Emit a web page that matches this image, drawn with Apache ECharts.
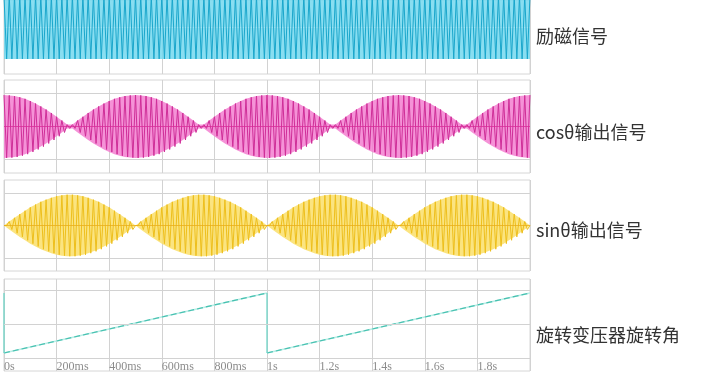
<!DOCTYPE html>
<html>
<head>
<meta charset="utf-8">
<script src="https://cdn.jsdelivr.net/npm/echarts@6/dist/echarts.min.js"></script>
<style>
html,body{margin:0;padding:0;background:#fff;}
#chart{width:713px;height:379px;}
</style>
</head>
<body>
<div id="chart"></div>
<script>
// ---- data ----
const panelLabels = ['励磁信号', 'cosθ输出信号', 'sinθ输出信号', '旋转变压器旋转角'];
const xTickLabels = ['0s', '200ms', '400ms', '600ms', '800ms', '1s', '1.2s', '1.4s', '1.6s', '1.8s', ''];
const sampleStepMs = 20; // envelope sampled every 20 ms, 0 .. 2000 ms

// excitation signal amplitude (constant carrier)
const excitationEnvelope = [
  1,
  1,1,1,1,1,1,1,1,1,1,1,1,1,1,1,1,1,1,1,1,1,1,1,1,1,
  1,1,1,1,1,1,1,1,1,1,1,1,1,1,1,1,1,1,1,1,1,1,1,1,1,
  1,1,1,1,1,1,1,1,1,1,1,1,1,1,1,1,1,1,1,1,1,1,1,1,1,
  1,1,1,1,1,1,1,1,1,1,1,1,1,1,1,1,1,1,1,1,1,1,1,1,1
];
// cos output envelope
const cosEnvelope = [
  1.00,
  0.99,0.97,0.93,0.88,0.81,0.73,0.64,0.54,0.43,0.31,0.19,0.06,0.06,0.19,0.31,0.43,0.54,0.64,0.73,0.81,0.88,0.93,0.97,0.99,1.00,
  0.99,0.97,0.93,0.88,0.81,0.73,0.64,0.54,0.43,0.31,0.19,0.06,0.06,0.19,0.31,0.43,0.54,0.64,0.73,0.81,0.88,0.93,0.97,0.99,1.00,
  0.99,0.97,0.93,0.88,0.81,0.73,0.64,0.54,0.43,0.31,0.19,0.06,0.06,0.19,0.31,0.43,0.54,0.64,0.73,0.81,0.88,0.93,0.97,0.99,1.00,
  0.99,0.97,0.93,0.88,0.81,0.73,0.64,0.54,0.43,0.31,0.19,0.06,0.06,0.19,0.31,0.43,0.54,0.64,0.73,0.81,0.88,0.93,0.97,0.99,1.00
];
// sin output envelope
const sinEnvelope = [
  0.00,
  0.13,0.25,0.37,0.48,0.59,0.68,0.77,0.84,0.90,0.95,0.98,1.00,1.00,0.98,0.95,0.90,0.84,0.77,0.68,0.59,0.48,0.37,0.25,0.13,0.00,
  0.13,0.25,0.37,0.48,0.59,0.68,0.77,0.84,0.90,0.95,0.98,1.00,1.00,0.98,0.95,0.90,0.84,0.77,0.68,0.59,0.48,0.37,0.25,0.13,0.00,
  0.13,0.25,0.37,0.48,0.59,0.68,0.77,0.84,0.90,0.95,0.98,1.00,1.00,0.98,0.95,0.90,0.84,0.77,0.68,0.59,0.48,0.37,0.25,0.13,0.00,
  0.13,0.25,0.37,0.48,0.59,0.68,0.77,0.84,0.90,0.95,0.98,1.00,1.00,0.98,0.95,0.90,0.84,0.77,0.68,0.59,0.48,0.37,0.25,0.13,0.00
];
// rotation angle: sawtooth, resets at these instants (ms)
const angleResetMs = [0, 1000, 2000];
const angleMinDeg = 0;
const angleMaxDeg = 360;

// ---- build series data ----
function carrier(env) {
  const out = [];
  env.forEach((a, i) => {
    const t = i * sampleStepMs;
    out.push([t, a]);
    if (i < env.length - 1) out.push([t + sampleStepMs / 2, -a]);
  });
  return out;
}
const upper = (env) => env.map((a, i) => [i * sampleStepMs, a]);
const lower = (env) => env.map((a, i) => [i * sampleStepMs, -a]);
const rampData = [];
const dropData = [];
for (let k = 0; k < angleResetMs.length - 1; k++) {
  rampData.push([angleResetMs[k], angleMinDeg], [angleResetMs[k + 1], angleMaxDeg], [angleResetMs[k + 1], '-']);
  dropData.push([angleResetMs[k], angleMaxDeg], [angleResetMs[k], angleMinDeg], [angleResetMs[k], '-']);
}

// ---- layout ----
const gridLeft = 4, gridRight = 183;
const grids = [
  {top: 0, height: 74, min: -1.48, max: 0.876},
  {top: 80, height: 93, min: -1.48, max: 1.48},
  {top: 180, height: 91, min: -1.48, max: 1.48},
  {top: 279, height: 92, min: -108, max: 444}
];
const gridLineColor = '#d2d2d2';
const hLine = (vals) => ({
  silent: true, symbol: 'none', label: {show: false}, animation: false,
  lineStyle: {color: gridLineColor, type: 'solid', width: 1},
  data: vals.map(v => ({yAxis: v}))
});

const chart = echarts.init(document.getElementById('chart'), null, {renderer: 'canvas'});
const xAxes = grids.map((g, i) => ({
  type: 'value', gridIndex: i, min: 0, max: 2000, interval: 200,
  axisLine: {show: false}, axisTick: {show: false},
  splitLine: {show: true, lineStyle: {color: gridLineColor, width: 1}},
  axisLabel: i === 3 ? {
    show: true, inside: true, margin: -2, align: 'left', showMaxLabel: false,
    color: '#8c8c8c', fontFamily: 'Liberation Serif', fontSize: 12,
    formatter: (v) => xTickLabels[Math.round(v / 200)] || ''
  } : {show: false}
}));
const yAxes = grids.map((g, i) => ({
  type: 'value', gridIndex: i, min: g.min, max: g.max,
  axisLine: {show: false}, axisTick: {show: false}, axisLabel: {show: false}, splitLine: {show: false}
}));

function signalSeries(idx, env, fill, stroke, zeroColor, lines) {
  const base = {type: 'line', xAxisIndex: idx, yAxisIndex: idx, symbol: 'none', silent: true, clip: false};
  const s = [
    Object.assign({}, base, {data: upper(env), lineStyle: {width: 0}, areaStyle: {color: fill, opacity: 0.85, origin: 0}}),
    Object.assign({}, base, {data: lower(env), lineStyle: {width: 0}, areaStyle: {color: fill, opacity: 0.85, origin: 0}}),
    Object.assign({}, base, {data: carrier(env), lineStyle: {color: stroke, width: 1}, markLine: hLine(lines)})
  ];
  if (zeroColor) s.push(Object.assign({}, base, {data: [[0, 0], [2000, 0]], lineStyle: {color: zeroColor, width: 1, opacity: 0.8}}));
  return s;
}

const option = {
  animation: false,
  backgroundColor: '#ffffff',
  grid: grids.map(g => ({left: gridLeft, right: gridRight, top: g.top, height: g.height,
    show: true, borderColor: '#d6d6d6', borderWidth: 1, backgroundColor: 'transparent'})),
  xAxis: xAxes,
  yAxis: yAxes,
  series: [].concat(
    signalSeries(0, excitationEnvelope, '#74d8ee', '#1aa6cb', null, [1.05]),
    signalSeries(1, cosEnvelope, '#f37fd0', '#cf2e98', '#d82a98', [1.05, -1.05]),
    signalSeries(2, sinEnvelope, '#fadf6a', '#eebf1c', '#eaae18', [1.05, -1.05]),
    [
      {type: 'line', xAxisIndex: 3, yAxisIndex: 3, data: rampData, symbol: 'none', connectNulls: false,
       lineStyle: {color: '#b8eee6', width: 1.5}, markLine: hLine([378, 174, -30])},
      {type: 'line', xAxisIndex: 3, yAxisIndex: 3, data: rampData, symbol: 'none', connectNulls: false,
       lineStyle: {color: '#48c0b0', width: 1.2, type: [6, 3]}},
      {type: 'line', xAxisIndex: 3, yAxisIndex: 3, data: dropData, symbol: 'none', connectNulls: false,
       lineStyle: {color: '#6fd6c8', width: 1.3}}
    ]
  ),
  graphic: panelLabels.map((t, i) => ({
    type: 'text', x: 536, y: [36, 132, 230, 335][i],
    style: {text: t, fill: '#333333', font: '18px "Noto Sans CJK SC"', verticalAlign: 'middle', align: 'left'}
  }))
};
chart.setOption(option);
</script>
</body>
</html>
